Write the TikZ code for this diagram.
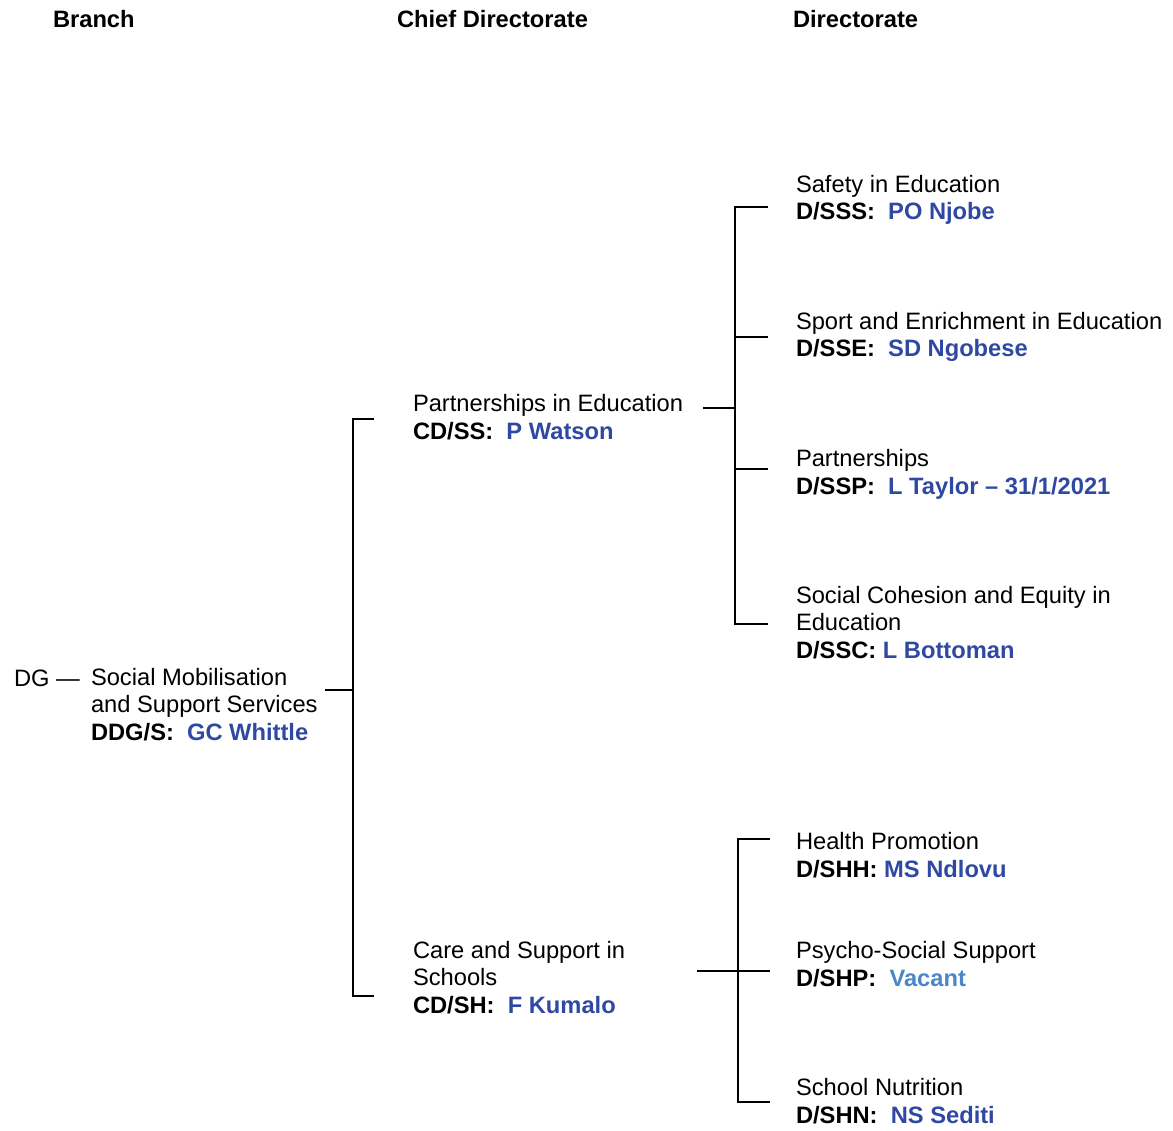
\documentclass[tikz,border=0pt]{standalone}
\usepackage{fontspec}
\setmainfont{Liberation Sans}
\definecolor{namecol}{HTML}{2F49A2}
\definecolor{vacantcol}{HTML}{4A86C8}
\newcommand{\post}[2]{\textbf{#1}\ \ \textcolor{namecol}{\textbf{#2}}}
\begin{document}
\begin{tikzpicture}[x={(1pt,0pt)},y={(0pt,-1pt)},
  % multi-line nodes are placed by the baseline of their last line
  every node/.style={inner sep=0pt,outer sep=0pt,anchor=base west,align=left,
    font=\fontsize{23.7}{27.4}\selectfont},
  head/.style={font=\fontsize{23.7}{27.4}\selectfont\bfseries},
  link/.style={line width=2pt,line cap=rect}]
\useasboundingbox (0,0) rectangle (1173,1131);

% column headings
\node[head] (hbranch) at (53,28) {Branch};
\node[head] (hchief) at (397,28) {Chief Directorate};
\node[head] (hdir) at (793,28) {Directorate};

% branch
\node (dg) at (14,686) {DG —};
\node (ddg) at (91,740) {Social Mobilisation\\and Support Services\\\post{DDG/S:}{GC Whittle}};

% chief directorates
\node (cdss) at (413,439) {Partnerships in Education\\\post{CD/SS:}{P Watson}};
\node (cdsh) at (413,1013) {Care and Support in\\Schools\\\post{CD/SH:}{F Kumalo}};

% directorates under CD/SS
\node (dsss) at (796,220) {Safety in Education\\\post{D/SSS:}{PO Njobe}};
\node (dsse) at (796,357) {Sport and Enrichment in Education\\\post{D/SSE:}{SD Ngobese}};
\node (dssp) at (796,494) {Partnerships\\\post{D/SSP:}{L Taylor – 31/1/2021}};
\node (dssc) at (796,658) {Social Cohesion and Equity in\\Education\\\textbf{D/SSC:} \textcolor{namecol}{\textbf{L Bottoman}}};

% directorates under CD/SH
\node (dshh) at (796,877) {Health Promotion\\\textbf{D/SHH:} \textcolor{namecol}{\textbf{MS Ndlovu}}};
\node (dshp) at (796,986) {Psycho-Social Support\\\textbf{D/SHP:}\ \ \textcolor{vacantcol}{\textbf{Vacant}}};
\node (dshn) at (796,1123) {School Nutrition\\\post{D/SHN:}{NS Sediti}};

% bracket junction points
\coordinate (b0) at (326,690);
\coordinate (b1) at (353,690);
\coordinate (b1t) at (353,419);
\coordinate (b1b) at (353,996);
\coordinate (c1t) at (373,419);
\coordinate (c1b) at (373,996);

\coordinate (s0) at (704,408);
\coordinate (s1) at (735,408);
\coordinate (s1t) at (735,207);
\coordinate (s1b) at (735,624);
\coordinate (s2a) at (767,207);
\coordinate (s2b) at (767,337);
\coordinate (s2c) at (767,469);
\coordinate (s2d) at (767,624);

\coordinate (h0) at (698,971);
\coordinate (h1t) at (738,839);
\coordinate (h1b) at (738,1102);
\coordinate (h2a) at (769,839);
\coordinate (h2b) at (769,971);
\coordinate (h2c) at (769,1102);

% branch to chief directorates
\draw[link] (b0) -- (b1);
\draw[link] (c1t) -- (b1t) -- (b1b) -- (c1b);

% CD/SS to its directorates
\draw[link] (s0) -- (s1);
\draw[link] (s2a) -- (s1t) -- (s1b) -- (s2d);
\draw[link] (s1t |- s2b) -- (s2b);
\draw[link] (s1t |- s2c) -- (s2c);

% CD/SH to its directorates
\draw[link] (h0) -- (h2b);
\draw[link] (h2a) -- (h1t) -- (h1b) -- (h2c);
\end{tikzpicture}
\end{document}
